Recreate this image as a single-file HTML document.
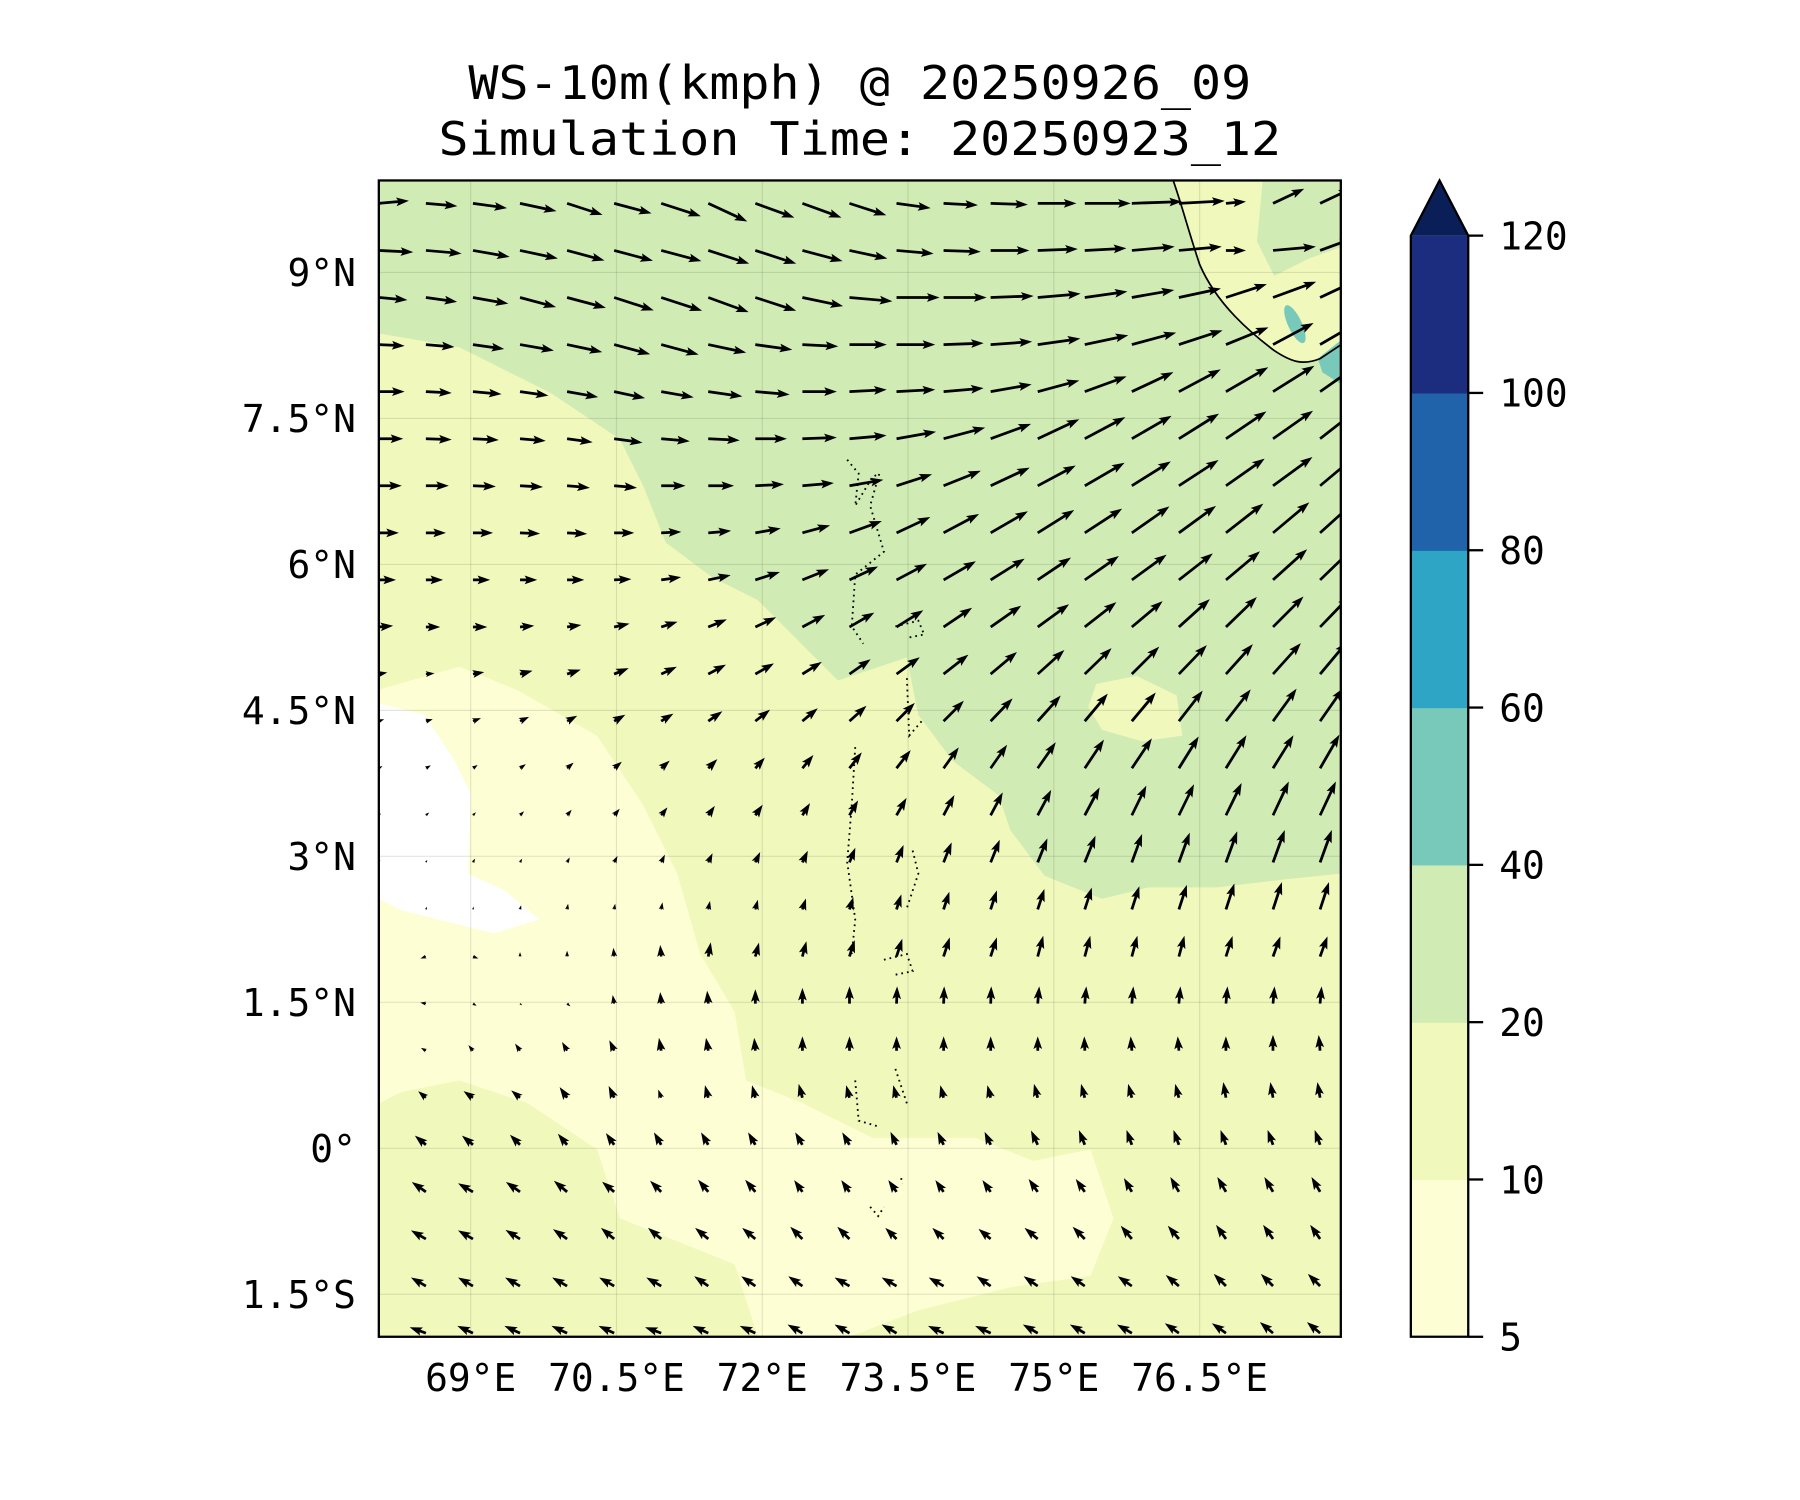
<!DOCTYPE html>
<html><head><meta charset="utf-8"><title>WS-10m wind map</title>
<style>
html,body{margin:0;padding:0;background:#fff;}
svg{display:block;}
text{font-family:"DejaVu Sans Mono","Liberation Mono",monospace;fill:#000;}
</style></head>
<body>
<svg id="chart" xmlns="http://www.w3.org/2000/svg" width="1800" height="1500" viewBox="0 0 1568 1305" preserveAspectRatio="none">
  <defs>
    <clipPath id="mapclip"><rect x="330" y="157" width="838" height="1006"/></clipPath>
  </defs>
  <text x="749" y="86" font-size="40" text-anchor="middle" textLength="682" lengthAdjust="spacingAndGlyphs">WS-10m(kmph) @ 20250926_09</text>
  <text x="749" y="135" font-size="40" text-anchor="middle" textLength="734" lengthAdjust="spacingAndGlyphs">Simulation Time: 20250923_12</text>

  <g id="map" clip-path="url(#mapclip)">
    <rect x="330" y="157" width="838" height="1006" fill="#f0f8bc"/>
    <path fill="#d0ebb4" d="M330,157 L1168,157 L1168,760 L1120,765 L1060,772 L1000,772 L960,782 L910,762 L880,722 L870,692 L830,662 L800,622 L790,572 L760,582 L730,592 L700,562 L660,522 L620,502 L580,472 L560,422 L540,382 L480,342 L400,302 L330,290 Z"/>
    <path fill="#f0f8bc" d="M955,595 L990,588 L1025,605 L1030,640 L995,645 L960,635 L948,615 Z"/>
    <path fill="#f0f8bc" d="M1022,157 C1030,180 1035,200 1045,230 C1060,265 1090,290 1110,305 C1125,315 1135,318 1150,312 L1168,300 L1168,157 Z"/>
    <path fill="#d0ebb4" d="M1100,157 L1168,157 L1168,215 L1140,225 L1110,240 L1095,210 Z"/>
    <path fill="#fdfed3" d="M330,600 L400,580 L450,600 L520,640 L560,700 L590,760 L610,830 L640,880 L650,940 L700,960 L760,990 L850,990 L900,1010 L950,1000 L970,1060 L950,1110 L880,1120 L800,1140 L740,1163 L660,1163 L640,1100 L590,1080 L540,1060 L520,1000 L460,960 L400,940 L350,950 L330,960 Z"/>
    <path fill="#ffffff" d="M330,612 L370,622 L395,660 L410,690 L408,760 L440,775 L470,800 L430,812 L390,802 L350,792 L330,782 Z"/>
    <ellipse cx="1128" cy="282" rx="6" ry="18" transform="rotate(-25 1128 282)" fill="#78c9ba"/>
    <path fill="#78c9ba" d="M1148,312 L1168,296 L1168,334 L1152,324 Z"/>
    <g id="grid" stroke="#000" stroke-opacity="0.1" stroke-width="1"></g>
    <path fill="none" stroke="#000" stroke-width="1.5" d="M1022,157 C1030,180 1035,200 1045,230 C1060,265 1090,290 1110,305 C1125,315 1135,318 1150,312 L1168,300"/>
    <path fill="none" stroke="#000" stroke-width="1.6" stroke-dasharray="1.5 3.5" d="M738,400 L748,412 L745,440 L760,415 L766,412 L758,440 L770,480 L745,500 L742,545 L752,560 M780,545 L800,540 L805,552 L790,555 M790,590 L792,640 L805,625 M745,650 L742,700 L738,750 L745,800 L742,830 M795,740 L800,760 L790,790 M770,835 L790,830 L795,845 L780,848 M780,930 L790,960 M745,940 L748,975 L765,980 M758,1050 L765,1058 L770,1050 M785,1025 L786,1030"/>
    <g id="quiver" fill="#000"></g>
  </g>
  <rect x="330" y="157" width="838" height="1006" fill="none" stroke="#000" stroke-width="2"/>
  <g id="axes"></g>
  <g id="cbar"></g>
</svg>
<script>
// ---- data ----
const latTicks = [9, 7.5, 6, 4.5, 3, 1.5, 0, -1.5];
const latTickLabels = ["9°N","7.5°N","6°N","4.5°N","3°N","1.5°N","0°","1.5°S"];
const lonTicks = [69, 70.5, 72, 73.5, 75, 76.5];
const lonTickLabels = ["69°E","70.5°E","72°E","73.5°E","75°E","76.5°E"];
const cbarLevels = [5, 10, 20, 40, 60, 80, 100, 120];
const cbarColors = ["#fdfed3","#f0f8bc","#d0ebb4","#78c9ba","#2ea5c5","#2163ab","#1c2c7e"];
const cbarExtendColor = "#0a1f58";
// wind direction (deg, math convention: 0=east, 90=north), top row first
const windDir = [
[5,-5,-8,-12,-18,-15,-18,-25,-20,-20,-18,-8,-3,-2,0,0,2,3,5,25,25],
[-3,-5,-10,-12,-15,-15,-15,-18,-18,-15,-12,-5,-2,0,2,3,5,5,0,5,20],
[-5,-8,-10,-15,-15,-18,-18,-20,-18,-12,-5,0,0,2,5,8,10,12,18,20,25],
[-3,-5,-8,-10,-12,-15,-15,-12,-8,-3,0,0,2,4,8,12,15,18,22,28,30],
[0,-3,-5,-8,-10,-12,-10,-8,-5,0,3,3,5,10,15,20,25,28,30,32,35],
[0,-2,-3,-5,-8,-8,-5,-3,0,2,5,10,15,20,25,28,30,32,34,35,38],
[0,0,-2,-3,-5,-5,0,0,3,5,10,18,22,25,28,30,32,33,35,36,40],
[0,0,0,-2,-3,0,3,5,10,15,20,25,28,30,32,33,35,36,38,40,42],
[0,0,0,0,0,3,8,12,18,22,25,28,30,32,34,35,36,38,40,42,44],
[5,0,0,5,8,12,18,22,25,28,30,32,34,35,36,38,40,42,44,45,46],
[10,5,10,15,18,22,25,28,30,32,35,36,38,40,42,44,45,46,48,48,50],
[20,15,20,25,28,30,32,35,38,40,42,45,45,46,48,50,50,52,52,54,55],
[30,30,35,35,40,40,42,45,48,50,52,52,54,55,55,56,56,58,58,58,60],
[40,40,45,45,50,50,52,55,55,58,60,60,62,62,62,62,64,64,64,65,65],
[60,60,60,60,62,62,65,65,65,65,68,68,68,68,68,68,70,70,70,70,70],
[80,70,75,75,80,80,80,78,75,72,72,72,72,72,72,72,72,72,72,72,72],
[190,200,-20,90,90,95,95,80,75,75,72,72,72,72,75,75,75,75,72,70,70],
[170,170,-30,-40,-40,100,95,95,90,90,90,88,88,88,85,85,85,85,85,85,85],
[175,150,130,125,120,115,100,100,95,90,90,90,90,90,90,92,95,95,90,90,95],
[175,140,145,140,125,115,110,105,105,105,105,105,105,105,105,105,105,105,100,100,100],
[140,140,140,135,130,125,120,120,120,120,120,115,115,115,115,112,110,110,110,110,110],
[145,145,150,145,140,140,135,130,130,125,125,125,125,125,125,125,120,120,120,120,120],
[150,150,150,148,145,140,140,140,140,135,135,135,135,140,140,135,130,130,125,125,125],
[150,150,150,150,150,150,150,145,145,145,150,150,150,145,145,145,145,140,135,135,135],
[160,160,155,155,155,155,160,155,155,150,150,150,155,155,150,150,150,145,145,140,140]
];
// wind speed (kmph), top row first
const windSpd = [
[21,22,24,26,26,27,29,30,29,29,27,24,24,26,27,32,35,32,14,24,24],
[24,25,26,27,27,28,29,30,30,29,27,26,26,27,28,29,30,30,14,30,24],
[20,22,25,26,28,29,30,30,30,29,30,30,30,30,30,30,30,30,30,32,32],
[18,20,22,24,25,26,27,27,26,25,26,27,28,29,30,31,32,32,32,32,33],
[18,18,20,20,22,22,23,24,24,24,26,27,28,29,30,31,32,33,34,34,34],
[17,18,18,18,18,20,20,22,22,24,26,28,30,30,32,32,32,33,34,34,34],
[16,16,16,16,16,16,17,18,20,22,24,26,28,30,30,32,32,33,33,34,34],
[14,14,14,14,14,14,14,16,18,20,24,26,28,30,30,31,32,32,33,33,33],
[12,12,12,12,12,12,14,16,18,20,22,24,26,28,28,29,30,30,31,32,32],
[10,10,10,10,10,11,12,14,16,18,20,22,24,26,27,28,28,29,30,30,30],
[6,6,8,9,10,11,12,14,15,16,18,20,22,24,25,26,27,28,28,29,29],
[4,5,6,7,8,9,10,12,13,14,16,18,20,22,24,25,26,27,28,28,28],
[3,4,4,5,6,7,8,9,10,12,14,16,18,20,22,24,25,26,27,27,27],
[2,3,3,4,5,6,7,8,9,10,12,14,16,18,20,22,23,24,25,26,26],
[2,2,3,3,4,5,6,7,8,9,11,13,15,17,18,20,21,22,23,24,24],
[2,2,2,3,4,4,5,6,7,8,9,11,13,14,15,16,17,18,19,20,20],
[3,4,4,3,4,6,8,10,10,11,12,13,14,14,15,15,15,15,15,15,15],
[4,4,3,2,3,6,8,9,10,11,12,12,12,12,12,12,12,12,12,12,12],
[4,4,5,6,7,8,9,9,9,10,10,10,10,10,10,10,10,10,10,11,11],
[4,7,8,8,9,9,6,9,9,10,9,9,9,9,10,10,10,10,11,11,11],
[10,10,10,10,10,10,10,10,10,10,10,10,10,10,11,11,11,11,11,11,11],
[12,12,12,12,12,11,11,11,11,10,10,10,10,10,11,11,11,12,12,12,12],
[12,12,12,12,12,12,12,12,12,12,12,11,11,11,12,12,12,12,12,12,12],
[12,12,12,12,12,12,12,12,12,12,12,12,12,12,12,12,12,12,12,12,12],
[12,12,12,12,12,12,12,12,12,12,12,12,12,12,12,12,12,12,12,12,12]
];
// ---- axes ----
const NS = "http://www.w3.org/2000/svg";
const LON0 = 68.055, LAT0 = 9.945, PXDEG = 84.67;
function xOf(lon){ return 330 + (lon - LON0) * PXDEG; }
function yOf(lat){ return 157 + (LAT0 - lat) * PXDEG; }
const GRID_LON0 = LON0, GRID_LAT0 = 9.71, GRID_STEP = 0.4842, GRID_STEP_LAT = 0.4837;
const SPD_PX = 1.25;
function cbY(i){ return 1163 - i * (958 / 7); }
function mk(tag, attrs, parent){
  const e = document.createElementNS(NS, tag);
  for (const k in attrs) e.setAttribute(k, attrs[k]);
  parent.appendChild(e); return e;
}
const grid = document.getElementById('grid');
lonTicks.forEach(function(lon){
  const l = mk('line', {x1: xOf(lon), x2: xOf(lon), y1: 157, y2: 1163}, grid);
  
  
});
latTicks.forEach(function(lat){
  const l = mk('line', {x1: 330, x2: 1168, y1: yOf(lat), y2: yOf(lat)}, grid);
  
  
});
const axes = document.getElementById('axes');
latTicks.forEach(function(lat, i){
  const t = mk('text', {x: 310, y: yOf(lat) + 12, 'font-size': 33, 'text-anchor': 'end'}, axes);
  
  
  t.textContent = latTickLabels[i];
});
lonTicks.forEach(function(lon, i){
  const t = mk('text', {x: xOf(lon), y: 1210, 'font-size': 33, 'text-anchor': 'middle'}, axes);
  
  
  t.textContent = lonTickLabels[i];
});
// ---- quiver ----
const quiver = document.getElementById('quiver');
windDir.forEach(function(row, r){
  row.forEach(function(ang, c){
    const spd = windSpd[r][c];
    const L = spd * SPD_PX;
    const x0 = xOf(GRID_LON0 + c * GRID_STEP), y0 = yOf(GRID_LAT0 - r * GRID_STEP_LAT);
    let w = 1.2, hw = 3.8, hl = 11, hal = 9.5;
    let s = 1;
    if (L < hl) { s = L / hl; }
    w *= s; hw *= s; hl *= s; hal *= s;
    const a = ang * Math.PI / 180, ca = Math.cos(a), sa = -Math.sin(a);
    const pts = [[0,-w],[L-hal,-w],[L-hl,-hw],[L,0],[L-hl,hw],[L-hal,w],[0,w]];
    const d = pts.map(function(p){ return (x0 + p[0]*ca - p[1]*sa).toFixed(1) + ',' + (y0 + p[0]*sa + p[1]*ca).toFixed(1); }).join(' ');
    const poly = mk('polygon', {points: d}, quiver);
    
    
  });
});
// ---- colorbar ----
const cbar = document.getElementById('cbar');
cbarColors.forEach(function(col, i){
  const r = mk('rect', {x: 1229, y: cbY(i+1), width: 50, height: cbY(i) - cbY(i+1) + 0.5, fill: col}, cbar);
  
  
});
const tri = mk('polygon', {points: '1229,' + cbY(7) + ' 1279,' + cbY(7) + ' 1254,157', fill: cbarExtendColor}, cbar);


const outline = mk('path', {d: 'M1229,1163 L1229,' + cbY(7) + ' L1254,157 L1279,' + cbY(7) + ' L1279,1163 Z', fill: 'none', stroke: '#000', 'stroke-width': 2}, cbar);


cbarLevels.forEach(function(v, i){
  const tk = mk('line', {x1: 1279, x2: 1292, y1: cbY(i), y2: cbY(i), stroke: '#000', 'stroke-width': 2}, cbar);
  
  
  const t = mk('text', {x: 1306, y: cbY(i) + 12, 'font-size': 33}, cbar);
  
  
  t.textContent = String(v);
});
</script>
</body></html>
